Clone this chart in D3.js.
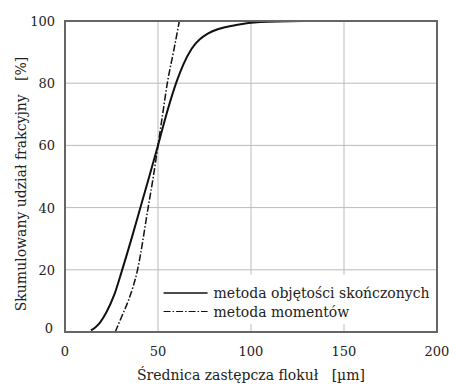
<!DOCTYPE html>
<html>
<head>
<meta charset="utf-8">
<script src="https://cdn.jsdelivr.net/npm/d3@7"></script>
<style>
  body { margin: 0; background: #fff; }
</style>
</head>
<body>
<svg id="chart" width="449" height="385"></svg>
<script>
// Cumulative fraction curves
const sizeFV = [14, 16.7, 19, 22.4, 26.5, 30.5, 36, 41, 45.3, 50, 55, 60, 63.6, 68, 77, 92, 105, 128]
const cumFV = [0.5, 1.7, 3.2, 6.5, 12, 19.5, 30.5, 41, 50, 60, 71, 80.5, 86, 91, 96, 98.7, 99.7, 100]

const sizeMM = [27, 30.5, 34, 39, 44.7, 47.5, 50, 52.5, 55, 58.3, 61.5]
const cumMM = [0, 5, 10, 20, 40, 50, 60, 70, 80, 90, 100]

const xTicks = [0, 50, 100, 150, 200]
const yTicks = [0, 20, 40, 60, 80, 100]

const seriesNames = ['metoda objętości skończonych', 'metoda momentów']

const margin = {top: 21, right: 12, bottom: 53, left: 65}
const width = 449
const height = 385
const serif = '"DejaVu Serif", "Liberation Serif", serif'

const svg = d3.select('#chart')
  .style('font-family', serif)

const x = d3.scaleLinear().domain([0, 200]).range([margin.left, width - margin.right])
const y = d3.scaleLinear().domain([0, 100]).range([height - margin.bottom, margin.top])

// Grid
svg.append('g')
  .selectAll('line')
  .data(xTicks.slice(1, -1))
  .join('line')
    .attr('x1', d => x(d)).attr('x2', d => x(d))
    .attr('y1', y(0)).attr('y2', y(100))
    .attr('stroke', '#bbb').attr('stroke-width', 1)
svg.append('g')
  .selectAll('line')
  .data(yTicks.slice(1, -1))
  .join('line')
    .attr('x1', x(0)).attr('x2', x(200))
    .attr('y1', d => y(d)).attr('y2', d => y(d))
    .attr('stroke', '#bbb').attr('stroke-width', 1)

// Legend background hides the grid underneath
svg.append('rect')
  .attr('x', x(52)).attr('y', y(18.5))
  .attr('width', x(199) - x(52)).attr('height', y(2.5) - y(18.5))
  .attr('fill', '#fff')

// Curves
const line = d3.line()
  .x(d => x(d[0]))
  .y(d => y(d[1]))
  .curve(d3.curveMonotoneX)

svg.append('path')
  .datum(d3.zip(sizeFV, cumFV))
  .attr('d', line)
  .attr('fill', 'none')
  .attr('stroke', '#111')
  .attr('stroke-width', 2)

svg.append('path')
  .datum(d3.zip(sizeMM, cumMM))
  .attr('d', line)
  .attr('fill', 'none')
  .attr('stroke', '#111')
  .attr('stroke-width', 1.5)
  .attr('stroke-dasharray', '7,2,1.5,2')

// Frame
svg.append('rect')
  .attr('x', x(0)).attr('y', y(100))
  .attr('width', x(200) - x(0)).attr('height', y(0) - y(100))
  .attr('fill', 'none')
  .attr('stroke', '#666')
  .attr('stroke-width', 2)

// Axes labels
svg.append('g')
  .selectAll('text')
  .data(xTicks)
  .join('text')
    .attr('x', d => x(d))
    .attr('y', 356)
    .attr('text-anchor', 'middle')
    .attr('font-size', 13)
    .attr('fill', '#222')
    .text(d => d)
svg.append('g')
  .selectAll('text')
  .data(yTicks)
  .join('text')
    .attr('x', d => d === 0 ? 53 : 55)
    .attr('y', d => y(d) + (d === 0 ? 1 : 5))
    .attr('text-anchor', 'end')
    .attr('font-size', 13)
    .attr('fill', '#222')
    .text(d => d)

svg.append('text')
  .attr('x', x(100))
  .attr('y', 380)
  .attr('text-anchor', 'middle')
  .attr('font-size', 14)
  .attr('fill', '#222')
  .style('white-space', 'pre')
  .text('Średnica zastępcza flokuł   [µm]')

svg.append('text')
  .attr('transform', `translate(26,184) rotate(-90)`)
  .attr('text-anchor', 'middle')
  .attr('font-size', 14)
  .attr('fill', '#222')
  .style('white-space', 'pre')
  .text('Skumulowany udział frakcyjny   [%]')

// Legend
const legend = svg.append('g')
  .selectAll('g')
  .data(seriesNames)
  .join('g')
    .attr('transform', (d, i) => `translate(${x(53)},${293 + i * 18.5})`)
legend.append('line')
  .attr('x1', 0).attr('x2', 44)
  .attr('stroke', '#111')
  .attr('stroke-width', (d, i) => i === 0 ? 1.6 : 1.2)
  .attr('stroke-dasharray', (d, i) => i === 0 ? null : '7,2,1.5,2')
legend.append('text')
  .attr('x', 50)
  .attr('y', 5)
  .attr('font-size', 14)
  .attr('fill', '#222')
  .text(d => d)
</script>
</body>
</html>
